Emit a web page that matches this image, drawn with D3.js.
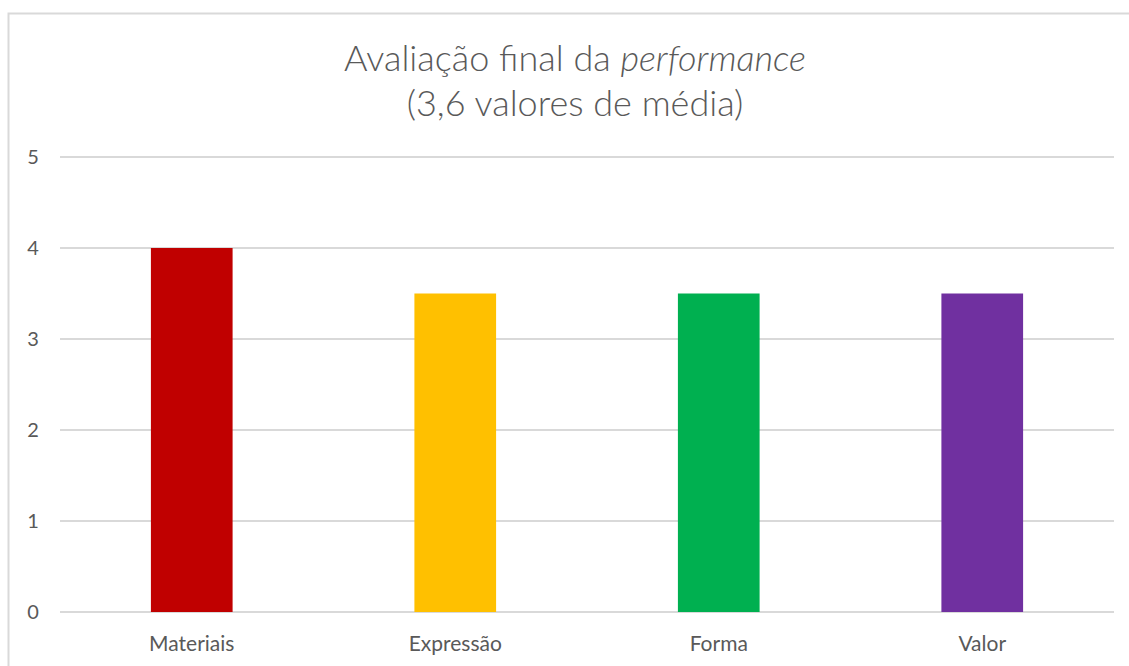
<!DOCTYPE html>
<html>
<head>
<meta charset="utf-8">
<script src="https://cdn.jsdelivr.net/npm/d3@7"></script>
<style>
  body { margin: 0; background: #fff; }
  text { font-family: Lato, "Open Sans", sans-serif; fill: #595959; }
  .grid line { stroke: #d9d9d9; stroke-width: 2; }
</style>
</head>
<body>
<div id="chart"></div>
<script>
// data
var categories = ["Materiais", "Expressão", "Forma", "Valor"];
var values = [4, 3.5, 3.5, 3.5];
var colors = ["#c00000", "#ffc000", "#00b050", "#7030a0"];
var yTicks = [0, 1, 2, 3, 4, 5];

var width = 1129, height = 666;
var margin = {left: 60, right: 15, top: 157, bottom: 54};

var svg = d3.select("#chart").append("svg")
  .attr("width", width)
  .attr("height", height);

// chart frame (cut off on the right and bottom like the screenshot)
svg.append("path")
  .attr("d", "M8.5," + (height + 5) + "V13.5H" + (width + 5))
  .attr("fill", "none")
  .attr("stroke", "#d9d9d9")
  .attr("stroke-width", 2);

var x = d3.scaleBand()
  .domain(categories)
  .range([margin.left, width - margin.right])
  .padding(0);

var y = d3.scaleLinear()
  .domain([0, 5])
  .range([height - margin.bottom, margin.top]);

// gridlines
svg.append("g")
  .attr("class", "grid")
  .selectAll("line")
  .data(yTicks)
  .enter()
  .append("line")
    .attr("x1", margin.left)
    .attr("x2", width - margin.right)
    .attr("y1", function(d) { return y(d); })
    .attr("y2", function(d) { return y(d); });

// y labels
svg.append("g")
  .selectAll("text")
  .data(yTicks)
  .enter()
  .append("text")
    .attr("x", 33)
    .attr("y", function(d) { return y(d); })
    .attr("dy", "0.35em")
    .attr("text-anchor", "middle")
    .style("font-size", "20px")
    .text(function(d) { return d; });

// bars
var barW = x.bandwidth() * 0.31;
svg.append("g")
  .selectAll("rect")
  .data(values)
  .enter()
  .append("rect")
    .attr("x", function(d, i) { return x(categories[i]) + x.bandwidth() / 2 - barW / 2; })
    .attr("y", function(d) { return y(d); })
    .attr("width", barW)
    .attr("height", function(d) { return y(0) - y(d); })
    .attr("fill", function(d, i) { return colors[i]; });

// category labels
svg.append("g")
  .selectAll("text")
  .data(categories)
  .enter()
  .append("text")
    .attr("x", function(d) { return x(d) + x.bandwidth() / 2; })
    .attr("y", 651)
    .attr("text-anchor", "middle")
    .style("font-size", "21px")
    .text(function(d) { return d; });

// title
var title = svg.append("text")
  .attr("x", 575)
  .attr("y", 71)
  .attr("text-anchor", "middle")
  .style("font-size", "36px")
  .style("font-weight", 300);
title.append("tspan").text("Avaliação final da ");
title.append("tspan").style("font-style", "italic").text("performance");

svg.append("text")
  .attr("x", 575)
  .attr("y", 116)
  .attr("text-anchor", "middle")
  .style("font-size", "36px")
  .style("font-weight", 300)
  .text("(3,6 valores de média)");
</script>
</body>
</html>
